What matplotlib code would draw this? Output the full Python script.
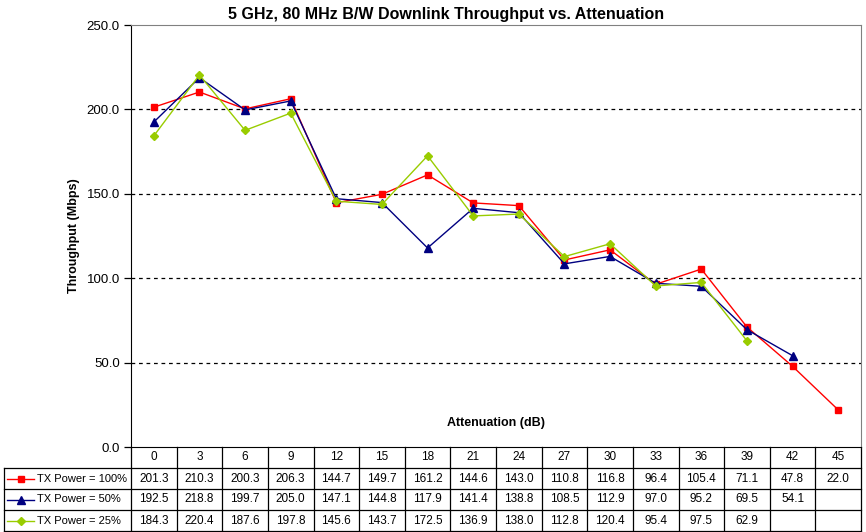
import matplotlib
matplotlib.use('Agg')
from matplotlib import pyplot as plt
from matplotlib.lines import Line2D

matplotlib.rc('font', family=['Liberation Sans', 'DejaVu Sans'], size=8)

atten = [0, 3, 6, 9, 12, 15, 18, 21, 24, 27, 30, 33, 36, 39, 42, 45]
tx100 = [201.3, 210.3, 200.3, 206.3, 144.7, 149.7, 161.2, 144.6, 143.0, 110.8,
         116.8, 96.4, 105.4, 71.1, 47.8, 22.0]
tx50 = [192.5, 218.8, 199.7, 205.0, 147.1, 144.8, 117.9, 141.4, 138.8, 108.5,
        112.9, 97.0, 95.2, 69.5, 54.1]
tx25 = [184.3, 220.4, 187.6, 197.8, 145.6, 143.7, 172.5, 136.9, 138.0, 112.8,
        120.4, 95.4, 97.5, 62.9]

series = [
    ('TX Power = 100%', tx100, '#FF0000', 's', 5),
    ('TX Power = 50%', tx50, '#000080', '^', 5.5),
    ('TX Power = 25%', tx25, '#99CC00', 'D', 4),
]

W, H = 866, 532
fig = plt.figure(figsize=(W / 100, H / 100), dpi=100)
L, R, T, B = 131, 861, 25, 447
ax = fig.add_axes([L / W, (H - B) / H, (R - L) / W, (B - T) / H])

n = len(atten)
ax.set_xlim(-0.5, n - 0.5)
ax.set_ylim(0, 250)

for name, vals, col, mk, ms in series:
    ax.plot(range(len(vals)), vals, color=col, marker=mk, ms=ms, lw=1,
            markeredgecolor=col, zorder=3)

yt = [0, 50, 100, 150, 200, 250]
ax.set_yticks(yt)
ax.set_yticklabels([f"{v:.1f}" for v in yt], fontsize=9.5)
ax.set_xticks([])
for y in yt[1:-1]:
    ax.axhline(y, color='black', lw=0.9, ls=(0, (3, 3)), zorder=1)
ax.tick_params(axis='y', length=5, width=0.9, pad=3)

for s in ['top', 'right']:
    ax.spines[s].set_color('#808080')
ax.spines['left'].set_color('black')
ax.spines['bottom'].set_color('black')

ax.set_ylabel('Throughput (Mbps)', fontweight='bold', fontsize=9, labelpad=5)
ax.text(0.5, 0.057, 'Attenuation (dB)', transform=ax.transAxes, ha='center',
        va='center', fontweight='bold', fontsize=9)
fig.text(0.515, 1 - 14 / H, '5 GHz, 80 MHz B/W Downlink Throughput vs. Attenuation',
         ha='center', va='center', fontweight='bold', fontsize=11.5)

# table under the plot
unit = (R - L) / n
rh = 21 / (B - T)
lab_left = -0.5 - (L - 4) / unit
tr = ax.get_xaxis_transform()
kw = dict(transform=tr, clip_on=False, color='black', lw=0.9)

for r in range(1, 5):
    ax.add_line(Line2D([lab_left, n - 0.5], [-r * rh, -r * rh], **kw))
ax.add_line(Line2D([lab_left, lab_left], [-rh, -4 * rh], **kw))
for i in range(n + 1):
    ax.add_line(Line2D([i - 0.5, i - 0.5], [0, -4 * rh], **kw))

for i, a in enumerate(atten):
    ax.text(i, -0.5 * rh, str(a), transform=tr, ha='center', va='center', fontsize=8.5)

for r, (name, vals, col, mk, ms) in enumerate(series, start=1):
    yc = -(r + 0.5) * rh
    for i, v in enumerate(vals):
        ax.text(i, yc, f"{v:.1f}", transform=tr, ha='center', va='center', fontsize=8.5)
    x0 = lab_left + 3 / unit
    x1 = lab_left + 30 / unit
    ax.add_line(Line2D([x0, x1], [yc, yc], transform=tr, clip_on=False, color=col, lw=1))
    ax.add_line(Line2D([(x0 + x1) / 2], [yc], transform=tr, clip_on=False, color=col,
                       marker=mk, ms=ms, markeredgecolor=col))
    ax.text(lab_left + 33 / unit, yc, name, transform=tr, ha='left', va='center', fontsize=8)

fig.savefig('out.png', dpi=100)
